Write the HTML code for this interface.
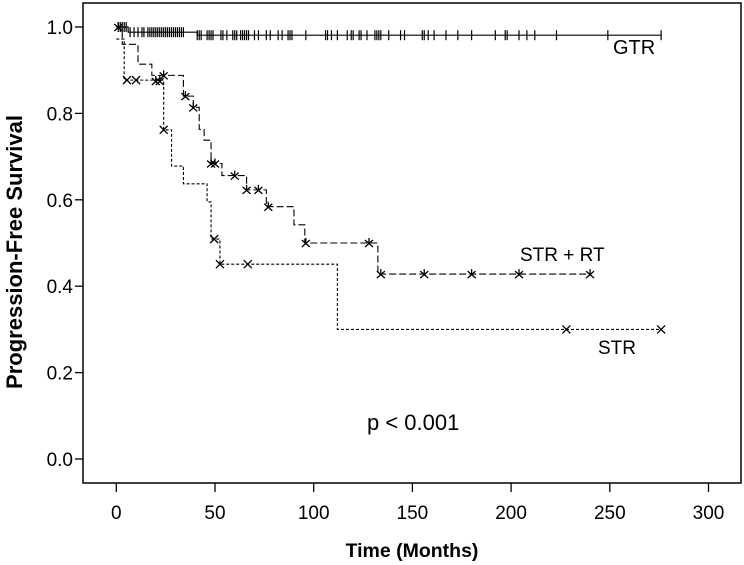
<!DOCTYPE html>
<html><head><meta charset="utf-8"><style>
body{margin:0;background:#fff}
svg{display:block;font-family:"Liberation Sans",Arial,sans-serif}
</style></head><body>
<svg id="chart" width="744" height="565" viewBox="0 0 744 565">
<rect x="83" y="3" width="658" height="480" fill="none" stroke="#000" stroke-width="1.5"/>
<g id="axes"></g>
<g id="series"></g>
<text x="22" y="252" transform="rotate(-90 22 252)" text-anchor="middle" font-size="22" font-weight="bold">Progression-Free Survival</text>
<text x="412" y="557" text-anchor="middle" font-size="19.5" font-weight="bold">Time (Months)</text>
<text x="613" y="54" font-size="20">GTR</text>
<text x="520" y="261" font-size="19">STR + RT</text>
<text x="598" y="354" font-size="19">STR</text>
<text x="367" y="430" font-size="22">p &lt; 0.001</text>
</svg>
<script>
const xTicks=[0,50,100,150,200,250,300];
const yTicks=[0,0.2,0.4,0.6,0.8,1.0];
const yTickLabels=["0.0","0.2","0.4","0.6","0.8","1.0"];
const gtrTimes=[0,6,41,276];
const gtrSurv=[1.0,0.988,0.981,0.981];
const gtrCensor=[1,2,3,4,5,7,9,11,13,14,16,17,18,19,20,21,22,23,24,25,26,27,28,29,30,31,32,33,34,41,42,43,46,47,48,49,53,54,56,59,60,61,63,64,65,66,67,70,72,76,78,82,84,87,88,89,96,106,107,109,112,117,119,120,123,124,127,131,132,133,134,138,144,146,155,156,158,161,167,173,180,192,197,198,204,208,212,223,249,276];
const strTimes=[0,4,24,28,34,46,48,52.5,112,276];
const strSurv=[0.972,0.877,0.762,0.678,0.637,0.595,0.509,0.451,0.30,0.30];
const strCensor=[5.4,10,24,49.6,52.5,66.6,228,276];
const strCensorSurv=[0.877,0.877,0.762,0.509,0.451,0.451,0.30,0.30];
const rtTimes=[0,3,11,18,34,39,42,44.5,48,53.5,66,76,90,95.5,132.5,240];
const rtSurv=[1.0,0.96,0.914,0.888,0.84,0.814,0.763,0.738,0.684,0.656,0.623,0.584,0.542,0.50,0.428,0.428];
const rtCensor=[1,20,22,24,35,39,48,50,60,66,72,77,96,128,134,156,180,204,240];
const rtCensorSurv=[1.0,0.875,0.875,0.888,0.84,0.814,0.684,0.684,0.656,0.623,0.623,0.584,0.50,0.50,0.428,0.428,0.428,0.428,0.428];

const X=t=>116.3+t*1.974;
const Y=v=>459-v*432;
const NS="http://www.w3.org/2000/svg";
const axes=document.getElementById('axes'),ser=document.getElementById('series');
function mk(tag,at,parent){const e=document.createElementNS(NS,tag);for(const k in at)e.setAttribute(k,at[k]);parent.appendChild(e);return e;}
xTicks.forEach(t=>{
 const l=mk('line',{x1:X(t),x2:X(t),y1:483,y2:492,stroke:'#000','stroke-width':1.3},axes);
 
 
 const tx=mk('text',{x:X(t),y:519,'text-anchor':'middle','font-size':19},axes);tx.textContent=t;
 
 
});
yTicks.forEach((v,i)=>{
 const l=mk('line',{x1:75,x2:83,y1:Y(v),y2:Y(v),stroke:'#000','stroke-width':1.3},axes);
 
 
 const tx=mk('text',{x:73,y:Y(v)+7,'text-anchor':'end','font-size':19},axes);tx.textContent=yTickLabels[i];
 
 
});
function step(times,surv){let d=`M${X(times[0])},${Y(surv[0])}`;for(let i=1;i<times.length;i++){d+=`H${X(times[i])}V${Y(surv[i])}`;}return d;}
const g=mk('path',{d:step(gtrTimes,gtrSurv),fill:'none',stroke:'#000','stroke-width':1.2},ser);


const s=mk('path',{d:step(strTimes,strSurv),fill:'none',stroke:'#000','stroke-width':1.1,'stroke-dasharray':'3,2'},ser);


const r=mk('path',{d:step(rtTimes,rtSurv),fill:'none',stroke:'#000','stroke-width':1.1,'stroke-dasharray':'7,3'},ser);


function survAt(times,surv,t){let v=surv[0];for(let i=0;i<times.length;i++){if(times[i]<=t)v=surv[i];}return v;}
gtrCensor.forEach(t=>{const y=Y(survAt(gtrTimes,gtrSurv,t));
 const l=mk('line',{x1:X(t),x2:X(t),y1:y-5,y2:y+5,stroke:'#000','stroke-width':1.2},ser);
 
 });
strCensor.forEach((t,i)=>{const x=X(t),y=Y(strCensorSurv[i]);
 const p=mk('path',{d:`M${x-4},${y-4}L${x+4},${y+4}M${x-4},${y+4}L${x+4},${y-4}`,stroke:'#000','stroke-width':1.3},ser);
 
 });
rtCensor.forEach((t,i)=>{const x=X(t),y=Y(rtCensorSurv[i]);
 const p=mk('path',{d:`M${x-4},${y-3}L${x+4},${y+4}M${x-4},${y+4}L${x+4},${y-3}M${x},${y-5}V${y+1}`,stroke:'#000','stroke-width':1.3},ser);
 
 });
</script>
</body></html>
